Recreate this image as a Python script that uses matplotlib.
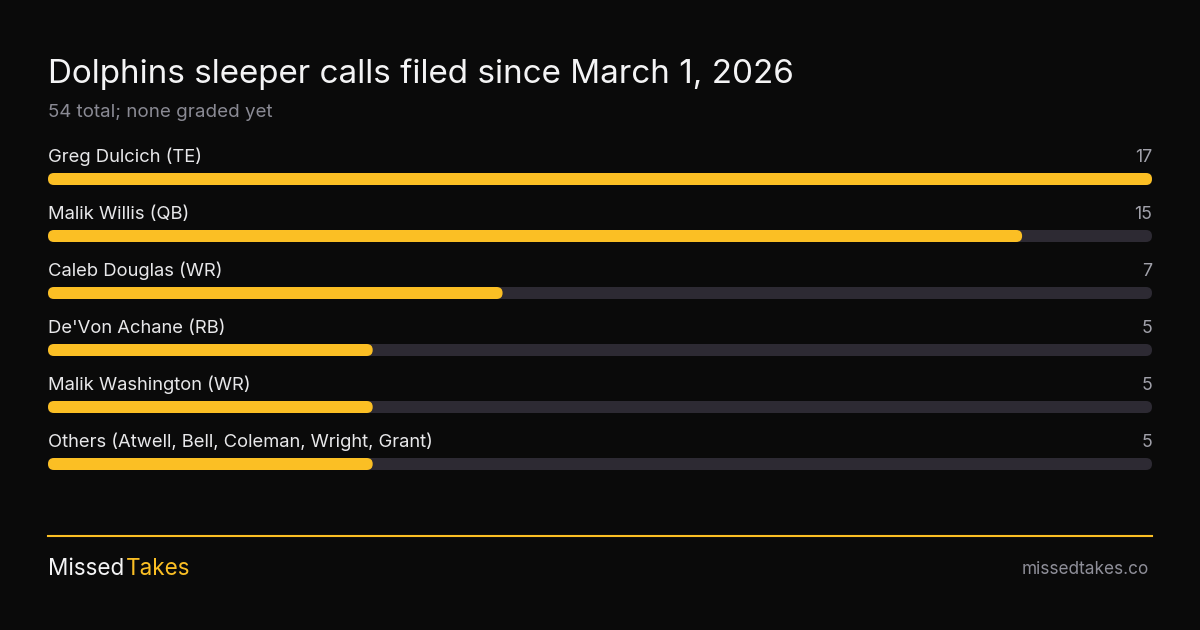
import matplotlib
matplotlib.use("Agg")
import matplotlib.pyplot as plt
from matplotlib.patches import FancyBboxPatch

plt.rcParams['font.family'] = ['Inter', 'DejaVu Sans']

title = "Dolphins sleeper calls filed since March 1, 2026"
subtitle = "54 total; none graded yet"
players = ["Greg Dulcich (TE)", "Malik Willis (QB)", "Caleb Douglas (WR)",
           "De'Von Achane (RB)", "Malik Washington (WR)",
           "Others (Atwell, Bell, Coleman, Wright, Grant)"]
calls = [17, 15, 7, 5, 5, 5]
brand_a = "Missed"
brand_b = "Takes"
site = "missedtakes.co"

W, H = 1200, 630
BG = "#0a0a0a"
YEL = "#fbbf24"
TRACK = "#2d2a33"

fig = plt.figure(figsize=(W / 100, H / 100), dpi=100, facecolor=BG)

def fy(py):
    return 1 - py / H

def fx(px):
    return px / W

def pt(px):
    return px * 0.75

fig.text(fx(48), fy(83), title, color="#f4f4f5", fontsize=pt(31.9), va="baseline", ha="left")
fig.text(fx(48), fy(117), subtitle, color="#8a8a94", fontsize=pt(18), va="baseline", ha="left")

# bar axes: rows 57px apart, centre of first row at y=179
L, R = 48, 1152
top, bot = 150.5, 150.5 + 57 * len(players)
ax = fig.add_axes([fx(L), fy(bot), fx(R) - fx(L), (bot - top) / H])
ax.set_facecolor("none")
vmax = max(calls)
ax.set_xlim(0, vmax)
ax.set_ylim(len(players) - 0.5, -0.5)
ax.axis("off")

bar_h_px = 12
x_per_px = vmax / (R - L)
y_per_px = 1 / 57
bh = bar_h_px * y_per_px
r_x = (bar_h_px / 2) * x_per_px
aspect = y_per_px / x_per_px

for i, (name, v) in enumerate(zip(players, calls)):
    for width, col in ((vmax, TRACK), (v, YEL)):
        p = FancyBboxPatch((0, i - bh / 2), width, bh,
                           boxstyle=f"round,pad=0,rounding_size={r_x}",
                           mutation_aspect=aspect, linewidth=0, facecolor=col)
        ax.add_patch(p)
    base = 162 + 57 * i
    fig.text(fx(48), fy(base), name, color="#e8e8ea", fontsize=pt(17.7), va="baseline", ha="left")
    fig.text(fx(1152), fy(base), str(v), color="#a1a1aa", fontsize=pt(17), va="baseline", ha="right")

# footer
fig.add_artist(plt.Line2D([fx(48), fx(1152)], [fy(535.5), fy(535.5)], color=YEL, linewidth=1.5))
t1 = fig.text(fx(48), fy(575), brand_a, color="#f4f4f5", fontsize=pt(21.6), va="baseline", ha="left")
fig.canvas.draw()
bb = t1.get_window_extent()
fig.text((bb.x1 + 2) / W, fy(575), brand_b, color=YEL, fontsize=pt(21.6), va="baseline", ha="left")
fig.text(fx(1148.5), fy(573.5), site, color="#8f8f99", fontsize=pt(16.5), va="baseline", ha="right")

fig.savefig("out.png", dpi=100, facecolor=BG)
